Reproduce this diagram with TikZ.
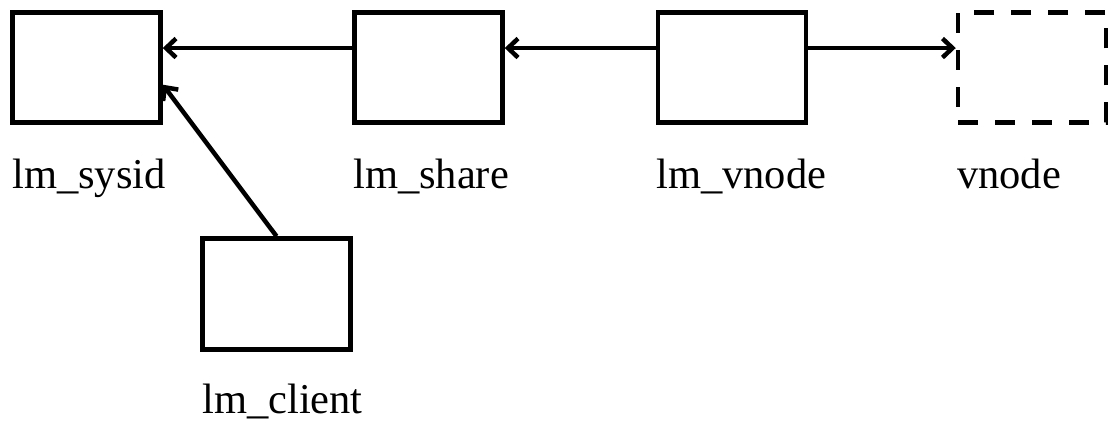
\documentclass[tikz,border=0pt]{standalone}
\usepackage{fontspec}
\setmainfont{Liberation Serif}
\usetikzlibrary{arrows.meta,calc}
\begin{document}
\begin{tikzpicture}[x=1pt,y=-1pt,
  box/.style={draw,line width=4.5pt,minimum width=148pt,minimum height=110pt,inner sep=0pt},
  dbox/.style={box,dash pattern=on 20pt off 17pt},
  lbl/.style={anchor=base west,inner sep=0pt,font=\fontsize{42.5}{50}\selectfont},
  arr/.style={line width=4.5pt,-{Straight Barb[length=10pt,width=19pt,line width=4.5pt]}}]
\useasboundingbox (0,0) rectangle (1113,425);
\node[box] (sysid) at (86.5,67.5) {};
\node[box] (share) at (428.5,67.5) {};
\node[box] (lmvnode) at (732,67.5) {};
\node[dbox] (vnode) at (1032,67.5) {};
\node[box,minimum height=111pt] (client) at (276.5,294) {};
\node[lbl] (tsysid) at (12,188) {lm\_sysid};
\node[lbl] (tshare) at (353,188) {lm\_share};
\node[lbl] (tlmvnode) at (656,188) {lm\_vnode};
\node[lbl] (tvnode) at (957,188) {vnode};
\node[lbl] (tclient) at (202,413) {lm\_client};
\draw[arr] ($(share.north west)!0.33!(share.south west)$) -- ($(sysid.north east)!0.33!(sysid.south east)$);
\draw[arr] ($(lmvnode.north west)!0.33!(lmvnode.south west)$) -- ($(share.north east)!0.33!(share.south east)$);
\draw[arr] ($(lmvnode.north east)!0.33!(lmvnode.south east)$) -- ($(vnode.north west)!0.33!(vnode.south west)$);
\draw[arr] (client.north) -- ($(sysid.north east)!0.65!(sysid.south east)$);
\end{tikzpicture}
\end{document}
